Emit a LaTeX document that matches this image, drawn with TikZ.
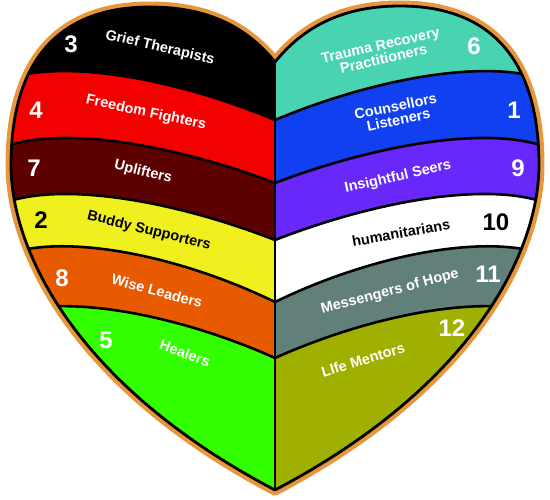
\documentclass[tikz,border=0pt]{standalone}
\usepackage{fontspec}
\setmainfont{Liberation Sans}
\definecolor{rimorange}{RGB}{232,150,60}
\definecolor{cred}{RGB}{245,0,0}
\definecolor{cmaroon}{RGB}{92,0,0}
\definecolor{cyellow}{RGB}{240,240,30}
\definecolor{corange}{RGB}{232,90,0}
\definecolor{cgreen}{RGB}{51,255,0}
\definecolor{cteal}{RGB}{72,212,176}
\definecolor{cblue}{RGB}{16,64,240}
\definecolor{cpurple}{RGB}{104,40,250}
\definecolor{cgray}{RGB}{98,128,122}
\definecolor{colive}{RGB}{160,176,0}
\begin{document}
\begin{tikzpicture}[x=1pt,y=-1pt,
  lbl/.style={font=\bfseries\fontsize{14.5}{14}\selectfont, text=white, align=center, inner sep=0pt},
  num/.style={font=\bfseries\fontsize{24}{24}\selectfont, text=white, inner sep=0pt},
  divline/.style={line width=2.6pt, black},
  rim/.style={line width=11pt, rimorange, line join=round},
  outline/.style={line width=2.8pt, black, line join=round}]
\useasboundingbox (0,0) rectangle (550,500);
\def\heartpath{(275,62) .. controls (245,25) and (205,7) .. (150,7) .. controls (55,7) and (11,65) .. (11,165) .. controls (11,250) and (75,385) .. (275,490) .. controls (475,385) and (539,250) .. (539,165) .. controls (539,65) and (495,6) .. (400,6) .. controls (345,6) and (305,25) .. (275,62) -- cycle}
% left dividers: #1 = peak parameter, #2 = y at centre line
\def\dl#1#2{(-5,#1+18) .. controls (50,#1-10) and (170,#1+10) .. (275,#2)}
\def\dr#1#2{(555,#1+18) .. controls (500,#1-10) and (380,#1+10) .. (275,#2)}
\draw[rim] \heartpath;
\begin{scope}
  \clip \heartpath;
  % left half
  \fill[cgreen] (-5,-10) rectangle (275,510);
  \fill[corange] \dl{301}{358} -- (275,-10) -- (-5,-10) -- cycle;
  \fill[cyellow] \dl{241}{302} -- (275,-10) -- (-5,-10) -- cycle;
  \fill[cmaroon] \dl{189}{240} -- (275,-10) -- (-5,-10) -- cycle;
  \fill[cred] \dl{133}{183} -- (275,-10) -- (-5,-10) -- cycle;
  \fill[black] \dl{66}{120} -- (275,-10) -- (-5,-10) -- cycle;
  % right half
  \fill[colive] (275,-10) rectangle (555,510);
  \fill[cgray] \dr{301}{358} -- (275,-10) -- (555,-10) -- cycle;
  \fill[white] \dr{241}{302} -- (275,-10) -- (555,-10) -- cycle;
  \fill[cpurple] \dr{189}{240} -- (275,-10) -- (555,-10) -- cycle;
  \fill[cblue] \dr{133}{183} -- (275,-10) -- (555,-10) -- cycle;
  \fill[cteal] \dr{66}{120} -- (275,-10) -- (555,-10) -- cycle;
  \foreach \p/\c in {66/120,133/183,189/240,241/302,301/358}{
    \draw[divline] \dl{\p}{\c};
    \draw[divline] \dr{\p}{\c};
  }
  \draw[divline] (275,40) -- (275,500);
\end{scope}
\draw[outline] \heartpath;
% left labels
\node[num] (n3) at (71,44) {3};
\node[lbl, rotate=-13] (t3) at (160,48) {Grief Therapists};
\node[num] (n4) at (36,110) {4};
\node[lbl, rotate=-12] (t4) at (146,113) {Freedom Fighters};
\node[num] (n7) at (34,168) {7};
\node[lbl, rotate=-14] (t7) at (143,172) {Uplifters};
\node[num, text=black] (n2) at (41,220) {2};
\node[lbl, text=black, rotate=-14] (t2) at (149,231) {Buddy Supporters};
\node[num] (n8) at (62,278) {8};
\node[lbl, rotate=-15] (t8) at (157,291) {Wise Leaders};
\node[num] (n5) at (106,340) {5};
\node[lbl, rotate=-20] (t5) at (185,353) {Healers};
% right labels
\node[lbl, rotate=13] (t6) at (382,52) {Trauma Recovery\\Practitioners};
\node[num] (n6) at (474,46) {6};
\node[lbl, rotate=12] (t1) at (397,113) {Counsellors\\Listeners};
\node[num] (n1) at (514,110) {1};
\node[lbl, rotate=13] (t9) at (398,177) {Insightful Seers};
\node[num] (n9) at (518,168) {9};
\node[lbl, text=black, rotate=10] (t10) at (401,233) {humanitarians};
\node[num, text=black] (n10) at (496,222) {10};
\node[lbl, rotate=15] (t11) at (390,292) {Messengers of Hope};
\node[num] (n11) at (488,274) {11};
\node[num] (n12) at (452,328) {12};
\node[lbl, rotate=17] (t12) at (363,360) {LIfe Mentors};
\end{tikzpicture}
\end{document}
